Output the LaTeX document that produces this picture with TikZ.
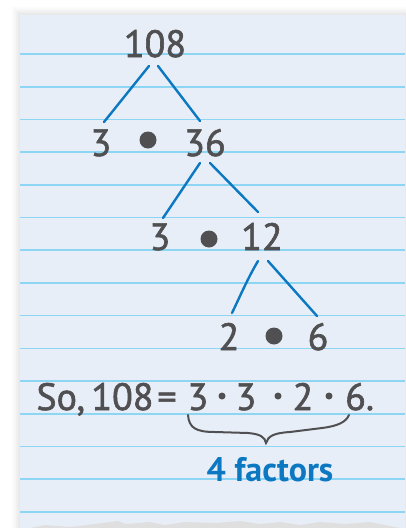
\documentclass[tikz,border=0pt]{standalone}
\usepackage{fontspec}
\setmainfont{PT Sans}
\newfontfamily\handfont[FakeBold=1.6]{PT Sans}
\definecolor{paper}{HTML}{E8EEF8}
\definecolor{rule}{HTML}{8CD6F4}
\definecolor{ink}{HTML}{505052}
\definecolor{treeblue}{HTML}{0B78C1}
\definecolor{shadowc}{HTML}{B8B8B8}
\begin{document}
\begin{tikzpicture}[x=1pt,y=-1pt,
  num/.style={anchor=base,text=ink,font=\handfont\fontsize{38}{40}\selectfont,inner sep=0pt},
  eqtxt/.style={anchor=base,text=ink,font=\handfont\fontsize{38}{40}\selectfont,inner sep=0pt},
  bigdot/.style={circle,fill=ink,minimum size=17pt,inner sep=0pt},
  smalldot/.style={circle,fill=ink,minimum size=7pt,inner sep=0pt},
  branch/.style={draw=treeblue,line width=2.4pt,line cap=round},
  ruleline/.style={draw=rule,line width=1.6pt}]
\useasboundingbox (0,0) rectangle (406,528);
\fill[white] (0,0) rectangle (406,528);
% soft shadow
\foreach \d/\o in {8/0.05,6/0.07,4/0.09,2/0.12}{
  \fill[shadowc,opacity=\o] (20-\d,15-\d) rectangle (406,528);
}
% paper
\fill[paper] (20,15) rectangle (405,528);
% ruled lines
\foreach \k in {0,...,14}{
  \draw[ruleline] (20,54+32.7*\k) -- (405,54+32.7*\k);
}
% torn bottom
\fill[gray!25] (30,528) -- (45,525) -- (70,527) -- (95,524) -- (118,521) -- (126,524) -- (150,522) -- (165,525) -- (185,522) -- (215,523) -- (240,521) -- (260,524) -- (280,522) -- (300,525) -- (320,522) -- (345,524) -- (370,522) -- (390,526) -- (400,528) -- cycle;

% tree
\node[num] (n108) at (155,57) {108};
\node[num] (a3) at (101,156) {3};
\node[bigdot] (d1) at (148,140) {};
\node[num] (n36) at (205,156) {36};
\node[num] (b3) at (160,250) {3};
\node[bigdot] (d2) at (209,239) {};
\node[num] (n12) at (262,250) {12};
\node[num] (c2) at (229,350) {2};
\node[bigdot] (d3) at (274,336) {};
\node[num] (c6) at (318,350) {6};

\coordinate (t1) at (149,66); \coordinate (l1) at (104,122);
\coordinate (t2) at (158,66); \coordinate (r1) at (200,121);
\coordinate (t3) at (200,163); \coordinate (l2) at (163,218);
\coordinate (t4) at (210,163); \coordinate (r2) at (258,212);
\coordinate (t5) at (258,261); \coordinate (l3) at (232,313);
\coordinate (t6) at (268,261); \coordinate (r3) at (317,316);
\draw[branch] (t1) -- (l1);
\draw[branch] (t2) -- (r1);
\draw[branch] (t3) -- (l2);
\draw[branch] (t4) -- (r2);
\draw[branch] (t5) .. controls (248,278) and (242,292) .. (l3);
\draw[branch] (t6) -- (r3);

% equation
\node[eqtxt] (so) at (95,410) {So,\,108};
\node[eqtxt] (eq) at (167,410) {=};
\node[eqtxt] (e1) at (198,410) {3};
\node[smalldot] (s1) at (222,396) {};
\node[eqtxt] (e2) at (246,410) {3};
\node[smalldot] (s2) at (278,396) {};
\node[eqtxt] (e3) at (303,410) {2};
\node[smalldot] (s3) at (329,396) {};
\node[eqtxt,anchor=base west] (e4) at (345,410) {6.};

% brace
\coordinate (bl) at (188,415);
\coordinate (bt) at (266,443);
\coordinate (br) at (349,415);
\draw[ink,line width=2pt,line cap=round] (bl) .. controls (189,428) and (196,432) .. (215,432)
  -- (248,433) .. controls (260,434) and (265,437) .. (bt)
  .. controls (268,436) and (274,433) .. (290,432)
  -- (322,428) .. controls (338,426) and (346,422) .. (br);

\node[anchor=base,text=treeblue,font=\fontsize{34}{36}\selectfont\bfseries,inner sep=0pt] (fac) at (270,481) {4 factors};
\end{tikzpicture}
\end{document}
